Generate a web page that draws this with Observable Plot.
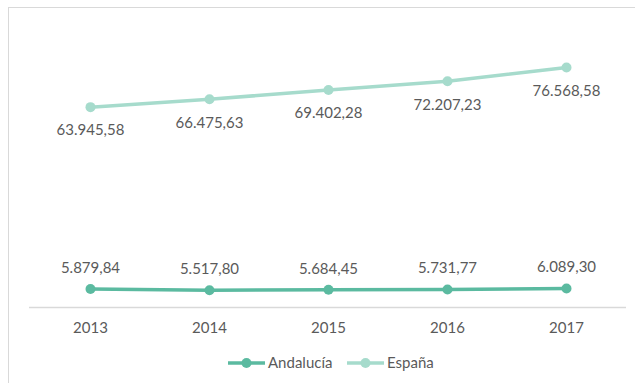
<!DOCTYPE html>
<html>
<head>
<meta charset="utf-8">
<script src="https://cdn.jsdelivr.net/npm/d3@7"></script>
<script src="https://cdn.jsdelivr.net/npm/@observablehq/plot@0.6"></script>
<style>
  html, body { margin: 0; padding: 0; background: #fff; }
  #wrap { position: relative; width: 635px; height: 383px; overflow: hidden; font-family: Lato, "Open Sans", sans-serif; }
  #frame { position: absolute; left: 8px; top: 7px; width: 640px; height: 400px; border-left: 1.5px solid #d9d9d9; border-top: 1.5px solid #d9d9d9; }
  #chart { position: absolute; left: 0; top: 0; }
  #legend { position: absolute; left: 0; top: 353px; width: 635px; height: 20px; }
</style>
</head>
<body>
<div id="wrap">
  <div id="frame"></div>
  <div id="chart"></div>
  <div id="legend"></div>
</div>
<script>
const years = ["2013", "2014", "2015", "2016", "2017"];
const andalucia = [5879.84, 5517.80, 5684.45, 5731.77, 6089.30];
const espana = [63945.58, 66475.63, 69402.28, 72207.23, 76568.58];
const seriesNames = ["Andalucía", "España"];
const seriesColors = ["#5bbaa0", "#a6dbcc"];

const fmt = v => v.toLocaleString("de-DE", {minimumFractionDigits: 2, maximumFractionDigits: 2});

const rows = [];
years.forEach((y, i) => {
  rows.push({year: y, serie: seriesNames[0], value: andalucia[i]});
  rows.push({year: y, serie: seriesNames[1], value: espana[i]});
});
const andRows = rows.filter(d => d.serie === seriesNames[0]);
const espRows = rows.filter(d => d.serie === seriesNames[1]);

const textColor = "#5a5a5a";
const fs = 15;
const chart = Plot.plot({
  width: 635,
  height: 345,
  marginLeft: 29,
  marginRight: 9,
  marginTop: 25,
  marginBottom: 38,
  style: {fontFamily: "Lato, 'Open Sans', sans-serif", fontSize: fs + "px", color: textColor, background: "transparent"},
  x: {type: "point", domain: years, padding: 0.5, label: null},
  y: {domain: [0, 90000], axis: null},
  color: {domain: seriesNames, range: seriesColors},
  marks: [
    Plot.ruleY([0], {stroke: "#d9d9d9", strokeWidth: 1.5}),
    Plot.axisX({tickSize: 0, tickPadding: 15, fill: textColor, label: null, fontSize: fs}),
    Plot.line(rows, {x: "year", y: "value", z: "serie", stroke: "serie", strokeWidth: 3.5, curve: "linear"}),
    Plot.dot(rows, {x: "year", y: "value", fill: "serie", r: 5}),
    Plot.text(andRows, {x: "year", y: "value", text: d => fmt(d.value), dy: -21, fill: textColor, fontSize: fs}),
    Plot.text(espRows, {x: "year", y: "value", text: d => fmt(d.value), dy: 23.5, fill: textColor, fontSize: fs})
  ]
});
document.getElementById("chart").appendChild(chart);

// legend
const leg = d3.select("#legend").append("svg").attr("width", 635).attr("height", 20);
const legX = [228, 347];
seriesNames.forEach((name, i) => {
  const g = leg.append("g").attr("transform", `translate(${legX[i]},10)`);
  g.append("line").attr("x1", 0).attr("x2", 37).attr("y1", 0).attr("y2", 0)
    .attr("stroke", seriesColors[i]).attr("stroke-width", 3.5);
  g.append("circle").attr("cx", 18.5).attr("cy", 0).attr("r", 5).attr("fill", seriesColors[i]);
  g.append("text").attr("x", 40).attr("y", 0).attr("dy", "0.35em")
    .attr("fill", textColor).style("font-family", "Lato, 'Open Sans', sans-serif").style("font-size", fs + "px")
    .text(name);
});
</script>
</body>
</html>
